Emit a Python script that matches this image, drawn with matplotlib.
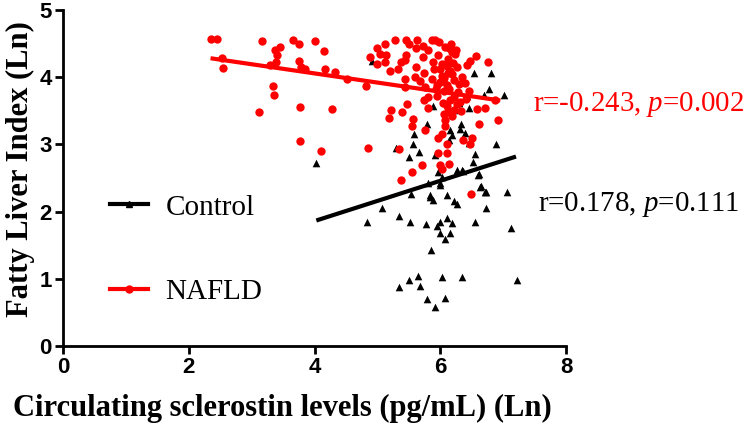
import numpy as np
import matplotlib.pyplot as plt
from matplotlib.lines import Line2D

plt.rcParams['mathtext.fontset'] = 'custom'
plt.rcParams['mathtext.rm'] = 'Liberation Serif'
plt.rcParams['mathtext.it'] = 'Liberation Serif:italic'

# NAFLD group (ln sclerostin, ln FLI)
nafld_x = [2.35, 2.45, 2.53, 2.54, 3.17, 3.37, 3.45, 3.40, 3.39, 3.30, 3.65, 3.75,
           4.01, 4.15, 3.76, 3.85, 3.78, 4.16, 4.32, 4.51, 4.81, 3.34, 3.36, 3.12,
           3.77, 4.28, 3.77, 4.10, 4.85, 5.34, 5.37, 5.55, 5.71, 5.76, 5.56, 5.39,
           5.21, 5.18, 5.47, 5.74, 5.81, 5.97, 5.96, 6.00, 6.02, 6.10, 6.11, 6.14,
           6.36, 6.51, 6.47, 6.49, 6.62, 6.71, 6.58, 6.92, 6.76, 6.56, 6.47, 6.87,
           6.39, 6.46, 6.07, 6.08, 5.28, 5.46, 5.63, 5.86, 5.91, 6.17, 5.12, 5.00,
           5.50, 5.62, 5.81, 5.04, 5.14, 4.88, 5.46, 5.73, 5.96, 5.00, 5.12, 5.38,
           5.44, 5.61, 5.20, 5.33, 5.74, 5.88, 6.02, 6.10, 6.12, 6.20, 6.26, 6.18,
           5.44, 5.60, 5.68, 5.86, 5.99, 6.10, 6.21, 6.30, 5.44, 5.76, 5.94, 6.05,
           6.14, 6.21, 6.28, 6.04, 6.10, 6.16, 6.22, 6.06, 6.12, 6.26, 5.95, 6.03,
           6.18, 6.08, 6.15, 5.90, 6.35, 6.42, 6.25, 5.98, 6.31, 6.04, 5.80, 6.19,
           6.40, 6.12, 5.72, 5.55, 6.02, 6.24, 6.33, 6.00, 6.14, 5.93, 6.05]
nafld_y = [4.57, 4.57, 4.29, 4.14, 4.54, 4.41, 4.45, 4.33, 4.23, 4.19, 4.56, 4.50,
           4.54, 4.39, 4.24, 4.13, 4.16, 4.12, 4.08, 3.97, 3.87, 3.87, 3.74, 3.49,
           3.56, 3.53, 3.05, 2.91, 2.95, 2.93, 2.47, 2.59, 2.69, 3.21, 3.38, 3.48,
           3.51, 3.40, 3.61, 3.67, 3.55, 3.09, 2.87, 2.69, 2.63, 3.01, 2.87, 2.71,
           3.07, 3.10, 3.01, 2.26, 3.31, 3.55, 3.53, 3.37, 4.23, 4.32, 4.24, 3.67,
           3.91, 3.80, 3.37, 3.27, 4.56, 4.56, 4.56, 4.56, 4.56, 4.50, 4.49, 4.43,
           4.49, 4.43, 4.41, 4.35, 4.33, 4.30, 4.33, 4.30, 4.33, 4.20, 4.23, 4.23,
           4.26, 4.16, 4.10, 4.13, 4.07, 4.23, 4.20, 4.17, 4.28, 4.22, 4.15, 4.05,
           3.97, 4.01, 3.94, 3.97, 3.93, 3.88, 3.96, 3.90, 3.85, 3.85, 3.88, 3.79,
           3.83, 3.71, 3.78, 3.62, 3.58, 3.66, 3.52, 3.45, 3.48, 3.60, 3.72, 4.02,
           4.38, 4.45, 4.10, 4.12, 4.00, 4.18, 4.40, 4.52, 3.64, 3.95, 3.70, 3.43,
           3.68, 4.06, 4.47, 3.28, 3.16, 4.35, 3.50, 4.12, 4.44, 3.82, 3.99]

# Control group
ctrl_x = [4.03, 6.18, 6.53, 6.81, 6.77, 6.69, 5.89, 6.21, 6.30, 6.45, 6.43, 5.78,
          6.32, 6.31, 6.15, 6.19, 6.39, 5.58, 5.57, 5.30, 5.66, 5.50, 5.92, 6.13,
          6.46, 6.89, 6.55, 6.52, 5.97, 6.26, 6.35, 6.61, 5.81, 6.00, 6.64, 6.72,
          5.53, 5.83, 6.10, 4.83, 5.07, 5.35, 5.52, 5.77, 5.83, 5.88, 5.94, 6.00,
          6.00, 6.10, 6.18, 6.15, 6.08, 5.85, 6.22, 6.26, 6.55, 6.73, 6.71, 6.63,
          6.60, 6.36, 6.02, 6.00, 5.35, 5.50, 5.64, 5.68, 6.02, 6.35, 5.78, 6.07,
          5.91, 7.12, 7.21, 7.01, 7.06, 4.92]
ctrl_y = [2.73, 4.08, 4.06, 4.07, 3.83, 3.73, 3.57, 3.51, 3.62, 3.55, 3.72, 3.30,
          3.31, 3.23, 3.21, 3.14, 3.17, 3.15, 3.01, 2.95, 2.89, 2.82, 2.84, 3.07,
          3.02, 3.00, 2.86, 2.74, 2.59, 2.62, 2.62, 2.56, 2.42, 2.42, 2.38, 2.30,
          2.27, 2.25, 2.25, 1.85, 2.06, 1.94, 1.84, 1.82, 2.22, 2.17, 1.78, 1.84,
          1.68, 1.90, 1.83, 1.68, 1.59, 1.43, 2.16, 2.12, 1.84, 2.06, 2.29, 2.37,
          2.54, 2.61, 2.52, 2.40, 0.88, 0.98, 1.04, 0.89, 1.02, 1.02, 0.70, 0.71,
          0.58, 1.75, 0.98, 3.73, 2.30, 4.25]

# fitted regression lines (range, slope, intercept)
nafld_fit_range = [2.38, 6.92]
nafld_slope, nafld_icpt = -0.1366, 4.605
ctrl_fit_range = [4.06, 7.17]
ctrl_slope, ctrl_icpt = 0.30, 0.66

fig = plt.figure(figsize=(7.48, 4.24), dpi=100)
ax = fig.add_axes([0.084, 0.184, 0.673, 0.792])

ax.scatter(ctrl_x, ctrl_y, marker='^', s=30, color='black', linewidths=0, zorder=2)
ax.scatter(nafld_x, nafld_y, marker='o', s=36, color='red', linewidths=0, zorder=3)

fx = np.array(ctrl_fit_range)
ax.plot(fx, ctrl_slope * fx + ctrl_icpt, color='black', lw=3, zorder=4)
fx = np.array(nafld_fit_range)
ax.plot(fx, nafld_slope * fx + nafld_icpt, color='red', lw=3, zorder=4)

ax.set_xlim(0, 8)
ax.set_ylim(0, 5)
ax.set_xticks([0, 2, 4, 6, 8])
ax.set_yticks([0, 1, 2, 3, 4, 5])
for s in ['top', 'right']:
    ax.spines[s].set_visible(False)
for s in ['left', 'bottom']:
    ax.spines[s].set_linewidth(2)
ax.tick_params(width=2, length=6, direction='out', labelsize=16, pad=2)
for lab in ax.get_xticklabels() + ax.get_yticklabels():
    lab.set_fontweight('bold')
    lab.set_family('Liberation Sans')

ax.set_xlabel('Circulating sclerostin levels (pg/mL) (Ln)', family='Liberation Serif',
              fontweight='bold', fontsize=22)
ax.xaxis.set_label_coords(0.437, -0.142)
ax.set_ylabel('Fatty Liver Index (Ln)', family='Liberation Serif',
              fontweight='bold', fontsize=22)
ax.yaxis.set_label_coords(-0.056, 0.527)

handles = [Line2D([], [], color='black', lw=3, marker='^', markersize=5),
           Line2D([], [], color='red', lw=3, marker='o', markersize=5)]
ax.legend(handles, ['Control', 'NAFLD'], loc='upper left', bbox_to_anchor=(0.042, 0.53),
          frameon=False, prop={'family': 'Liberation Serif', 'size': 21},
          labelspacing=2.0, handlelength=1.3, handletextpad=0.6)

ax.text(0.934, 0.72, r'r=-0.243, $\it{p}$=0.002', transform=ax.transAxes, color='red',
        family='Liberation Serif', fontsize=20.8, va='center', clip_on=False)
ax.text(0.944, 0.42, r'r=0.178, $\it{p}$=0.111', transform=ax.transAxes, color='black',
        family='Liberation Serif', fontsize=20.8, va='center', clip_on=False)

fig.savefig('out.png', dpi=100)
